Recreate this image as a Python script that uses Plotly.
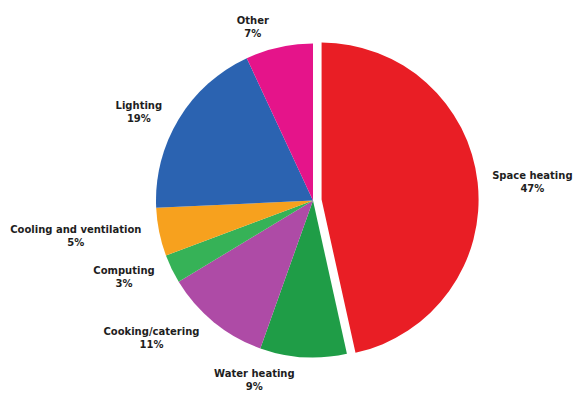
import plotly.graph_objects as go

# Energy use by end use, in percent
categories = ["Space heating", "Water heating", "Cooking/catering", "Computing",
              "Cooling and ventilation", "Lighting", "Other"]
shares = [47, 9, 11, 3, 5, 19, 7]
colors = ["#E91E25", "#1F9D47", "#AE4BA6", "#36B257", "#F7A11E", "#2B63B1", "#E5148A"]
pulls = [0.055, 0, 0, 0, 0, 0, 0]

W, H = 573, 396
PIE_CENTER, R_PIE = (313, 200.5), 157     # slice ring: centre (px from top-left), radius
TEXT_CENTER, R_TEXT = (311, 201.5), 167   # ring the outside labels hang off


def domain(center, radius):
    cx, cy = center
    half = radius * (1 + max(pulls))
    cy_b = H - cy
    return dict(x=[(cx - half) / W, (cx + half) / W],
                y=[(cy_b - half) / H, (cy_b + half) / H])


common = dict(labels=categories, values=shares, sort=False, direction="clockwise",
              rotation=0, pull=pulls, showlegend=False, automargin=False)

fig = go.Figure()

# coloured slices
fig.add_trace(go.Pie(
    **common,
    domain=domain(PIE_CENTER, R_PIE),
    marker=dict(colors=colors, line=dict(width=0)),
    textinfo="none",
    hoverinfo="label+value",
))

# transparent ring that carries the outside labels
fig.add_trace(go.Pie(
    **common,
    domain=domain(TEXT_CENTER, R_TEXT),
    marker=dict(colors=["rgba(0,0,0,0)"] * len(shares), line=dict(width=0)),
    textposition="outside",
    texttemplate="<b>%{label}</b><br><b>%{value}%</b>",
    textfont=dict(family="DejaVu Sans, sans-serif", size=10, color="#1e1e1e"),
    hoverinfo="skip",
))

fig.update_layout(
    width=W,
    height=H,
    margin=dict(l=0, r=0, t=0, b=0, autoexpand=False),
    paper_bgcolor="white",
    plot_bgcolor="white",
)

fig.write_html("out.html")
